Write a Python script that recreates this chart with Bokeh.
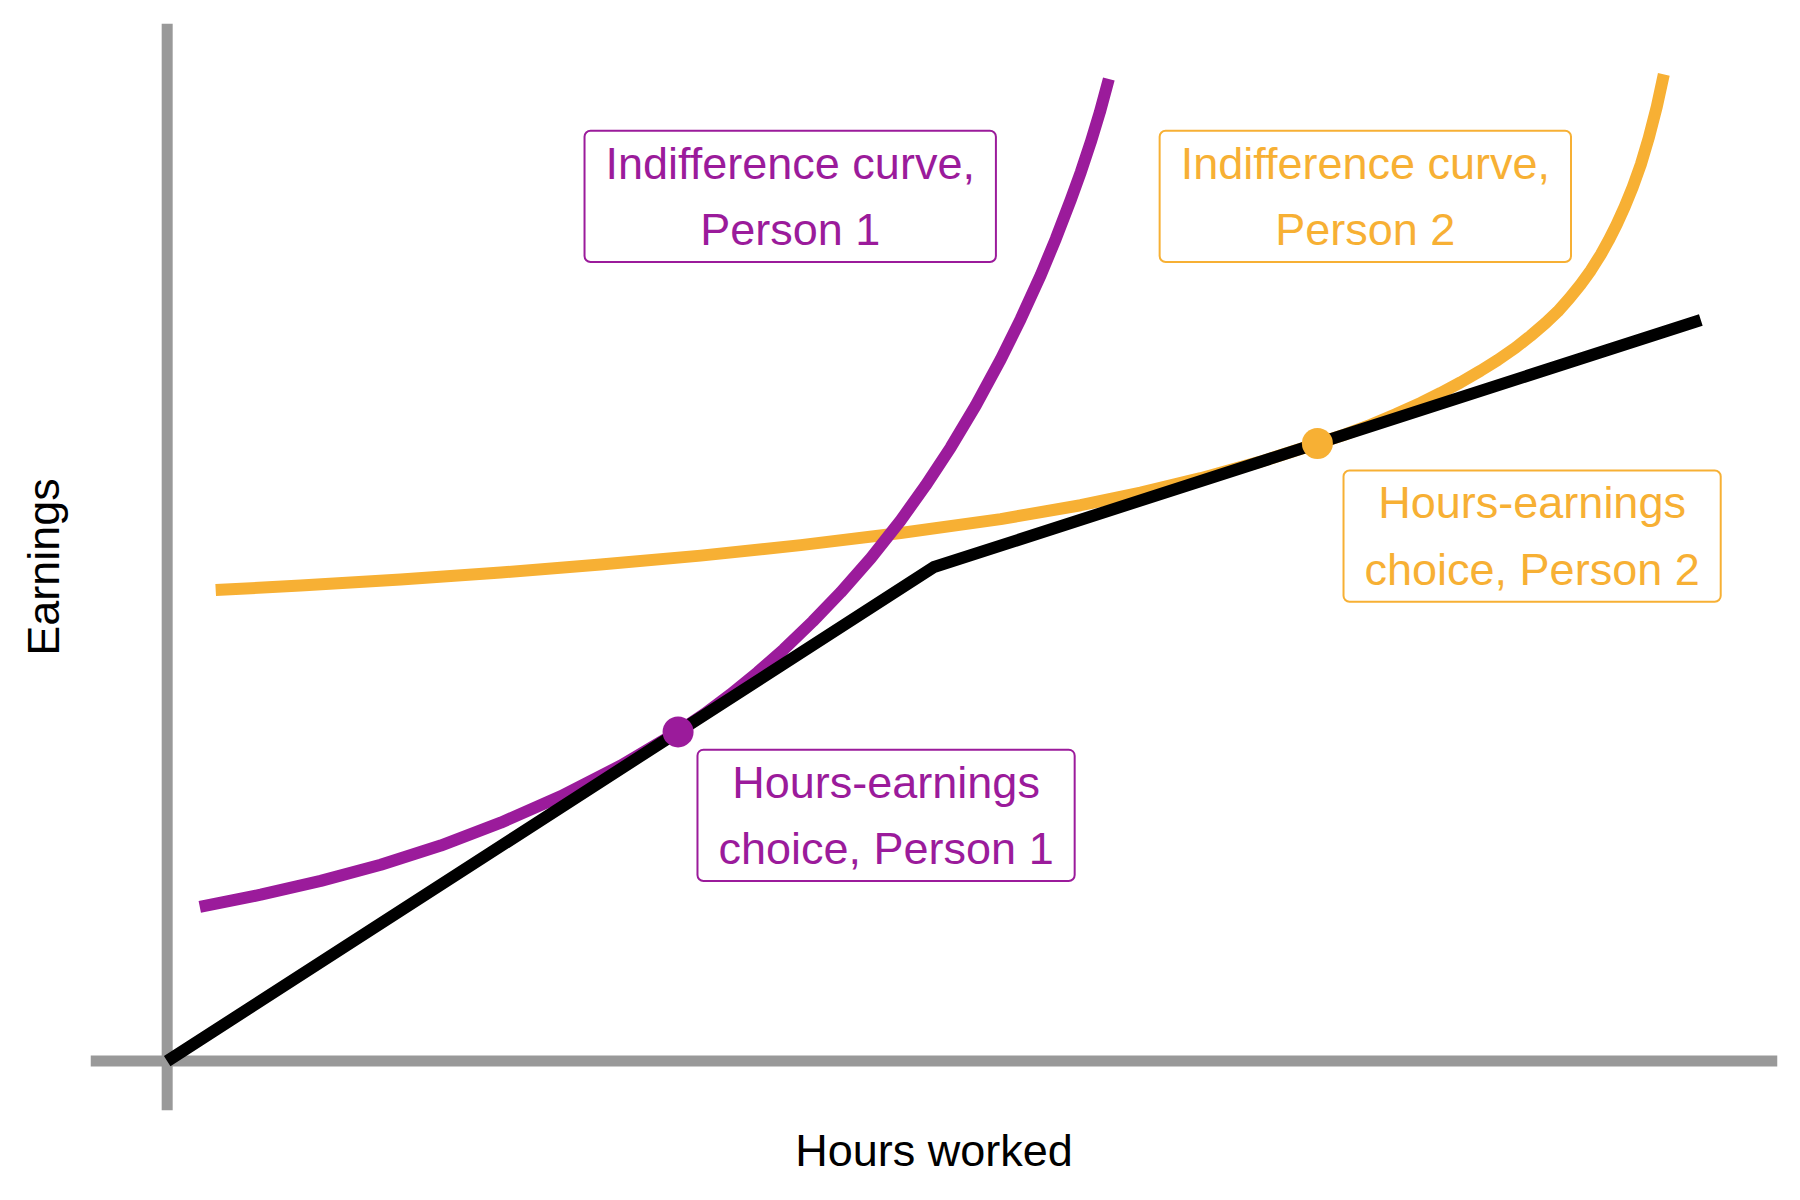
from bokeh.plotting import figure
from bokeh.models import Range1d, Label, FixedTicker, Span
from bokeh.embed import file_html
from bokeh.resources import INLINE

# ---- data ----
budget_hours = [0, 40, 80]
budget_earnings = [0, 400, 600]

p1_hours = [1.70, 4.88, 8.01, 11.14, 14.27, 17.40, 20.53, 23.66, 26.63, 28.04,
            29.39, 30.80, 32.16, 33.67, 35.13, 36.70, 38.26, 39.56, 40.87, 42.18,
            43.48, 44.52, 45.57, 46.35, 47.13, 47.66, 48.18, 48.65, 49.12]
p1_earnings = [124.8, 134.7, 145.9, 159.0, 174.5, 193.0, 214.4, 239.2, 266.4, 281.2,
               296.9, 314.7, 333.3, 355.9, 379.4, 407.1, 437.7, 465.9, 496.8, 530.8,
               568.1, 600.7, 636.4, 665.6, 697.1, 719.8, 744.1, 768.1, 795.1]

p2_hours = [2.53, 6.96, 12.18, 17.40, 22.61, 27.83, 33.05, 38.26, 43.48, 47.65,
            50.78, 53.91, 57.04, 60.00, 61.48, 62.78, 64.08, 65.39, 66.43, 67.47,
            68.51, 69.40, 70.34, 71.12, 71.91, 72.54, 73.16, 73.73, 74.26, 74.78,
            75.19, 75.61, 76.03, 76.45, 76.87, 77.28, 77.70, 78.07]
p2_earnings = [381.3, 385.0, 389.8, 395.5, 402.0, 409.2, 417.7, 427.5, 438.8, 450.0,
               460.2, 471.9, 485.3, 500.0, 507.5, 515.1, 523.6, 532.9, 540.9, 549.5,
               558.9, 567.5, 577.6, 587.1, 597.6, 606.9, 617.7, 628.7, 640.1, 652.9,
               664.4, 677.2, 691.6, 707.7, 725.9, 747.2, 772.4, 798.8]

choice_hours = [26.65, 60.0]
choice_earnings = [266.5, 500.0]

label_texts = ["Indifference curve,\nPerson 1", "Indifference curve,\nPerson 2",
               "Hours-earnings\nchoice, Person 1", "Hours-earnings\nchoice, Person 2"]

PURPLE = "#9b1b9b"
ORANGE = "#f7b034"
GREY = "#999999"
FONT = "Liberation Sans"

p = figure(width=1784, height=1184,
           x_range=Range1d(-4, 84), y_range=Range1d(-40, 840),
           output_backend="svg", toolbar_location=None,
           min_border_left=90, min_border_right=7,
           min_border_top=23, min_border_bottom=74,
           background_fill_color="white", border_fill_color="white",
           outline_line_color=None)
p.grid.visible = False

for ax in (p.xaxis[0], p.yaxis[0]):
    ax.ticker = FixedTicker(ticks=[])
    ax.axis_line_color = None
    ax.major_tick_line_color = None
    ax.minor_tick_line_color = None
    ax.major_tick_out = 0
    ax.major_tick_in = 0
    ax.major_label_standoff = 0
    ax.major_label_text_font_size = "0px"
    ax.axis_label_text_font = FONT
    ax.axis_label_text_font_size = "45px"
    ax.axis_label_text_font_style = "normal"
    ax.axis_label_text_color = "black"

p.xaxis.axis_label = "Hours worked"
p.yaxis.axis_label = "Earnings"
p.xaxis.axis_label_standoff = 14
p.yaxis.axis_label_standoff = 22

# axes drawn through the origin
p.add_layout(Span(location=0, dimension="width", line_color=GREY, line_width=11, level="underlay"))
p.add_layout(Span(location=0, dimension="height", line_color=GREY, line_width=11, level="underlay"))

p.line(p2_hours, p2_earnings, line_color=ORANGE, line_width=12, line_join="round")
p.line(p1_hours, p1_earnings, line_color=PURPLE, line_width=12, line_join="round")
p.line(budget_hours, budget_earnings, line_color="black", line_width=12, line_join="miter")

p.scatter(choice_hours[:1], choice_earnings[:1], size=31, fill_color=PURPLE, line_color=None)
p.scatter(choice_hours[1:], choice_earnings[1:], size=31, fill_color=ORANGE, line_color=None)

label_pos = [(32.5, 700), (62.5, 700), (37.5, 199), (71.2, 425)]
label_cols = [PURPLE, ORANGE, PURPLE, ORANGE]
for txt, (lx, ly), col in zip(label_texts, label_pos, label_cols):
    p.add_layout(Label(x=lx, y=ly, text=txt, text_align="center", text_baseline="middle",
                       text_font=FONT, text_font_size="45px", text_color=col,
                       text_line_height=1.3,
                       border_line_color=col, border_line_width=2,
                       background_fill_color="white",
                       padding=dict(left=21, right=21, top=7, bottom=7),
                       border_radius=6))

open("out.html", "w").write(file_html(p, INLINE))
